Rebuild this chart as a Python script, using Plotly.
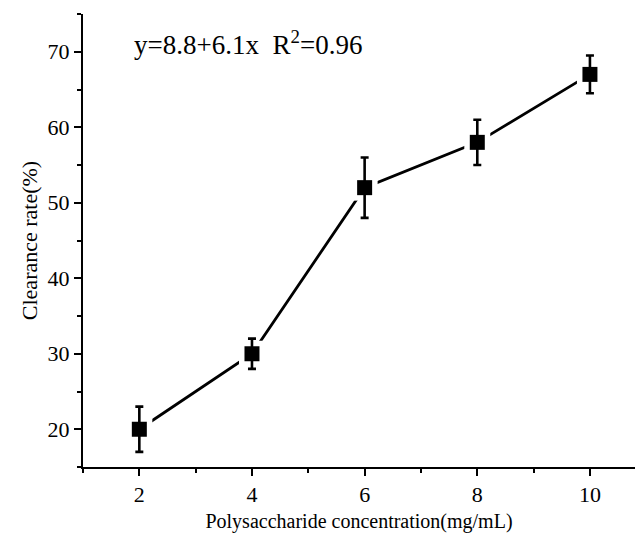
import plotly.graph_objects as go

conc = [2, 4, 6, 8, 10]
rate = [20, 30, 52, 58, 67]
err = [3, 2, 4, 3, 2.5]
x_ticks = [2, 4, 6, 8, 10]
y_ticks = [20, 30, 40, 50, 60, 70]

FONT = "Liberation Serif, Times New Roman, serif"
XR = [1, 10.8]
YR = [15, 75]

fig = go.Figure()
# connecting line (main subplot)
fig.add_trace(go.Scatter(x=conc, y=rate, mode="lines",
                         line=dict(color="black", width=2.8), showlegend=False, hoverinfo="skip"))
# white halo (second subplot, same domain, drawn above) -> gaps in the line near markers
fig.add_trace(go.Scatter(x=conc, y=rate, mode="markers", xaxis="x2", yaxis="y2",
                         marker=dict(symbol="square", size=26, color="white", line=dict(width=0)),
                         showlegend=False, hoverinfo="skip"))
# markers with error bars (third subplot, on top)
fig.add_trace(go.Scatter(x=conc, y=rate, mode="markers", xaxis="x3", yaxis="y3",
                         marker=dict(symbol="square", size=15, color="black"),
                         error_y=dict(type="data", array=err, visible=True,
                                      color="black", thickness=2.6, width=4),
                         showlegend=False))

fig.add_annotation(x=0.088, xref="paper", y=71.2, yref="y",
                   text="y=8.8+6.1x  R<sup>2</sup>=0.96", showarrow=False,
                   xanchor="left", yanchor="middle",
                   font=dict(family=FONT, size=27, color="black"))

axis_common = dict(showline=True, linecolor="black", linewidth=2, ticks="outside",
                   tickcolor="black", tickwidth=2, ticklen=7, showgrid=False,
                   zeroline=False, mirror=False,
                   tickfont=dict(family=FONT, size=22, color="black"))

hidden = dict(visible=False, showgrid=False, zeroline=False)

fig.update_layout(
    xaxis=dict(range=XR, tickvals=x_ticks, domain=[0, 1],
               minor=dict(ticks="outside", dtick=1, tick0=1, ticklen=4, tickwidth=2, tickcolor="black"),
               title=dict(text="Polysaccharide concentration(mg/mL)", standoff=8,
                          font=dict(family=FONT, size=20, color="black")),
               **axis_common),
    yaxis=dict(range=YR, tickvals=y_ticks, domain=[0, 1],
               minor=dict(ticks="outside", dtick=5, tick0=15, ticklen=4, tickwidth=2, tickcolor="black"),
               title=dict(text="Clearance rate(%)", standoff=4,
                          font=dict(family=FONT, size=22, color="black")),
               **axis_common),
    xaxis2=dict(range=XR, domain=[0, 1], anchor="y2", **hidden),
    yaxis2=dict(range=YR, domain=[0, 1], anchor="x2", **hidden),
    xaxis3=dict(range=XR, domain=[0, 1], anchor="y3", **hidden),
    yaxis3=dict(range=YR, domain=[0, 1], anchor="x3", **hidden),
    width=635, height=547, margin=dict(l=83, r=0, t=14, b=80),
    plot_bgcolor="rgba(0,0,0,0)", paper_bgcolor="white")

fig.write_html("out.html")
